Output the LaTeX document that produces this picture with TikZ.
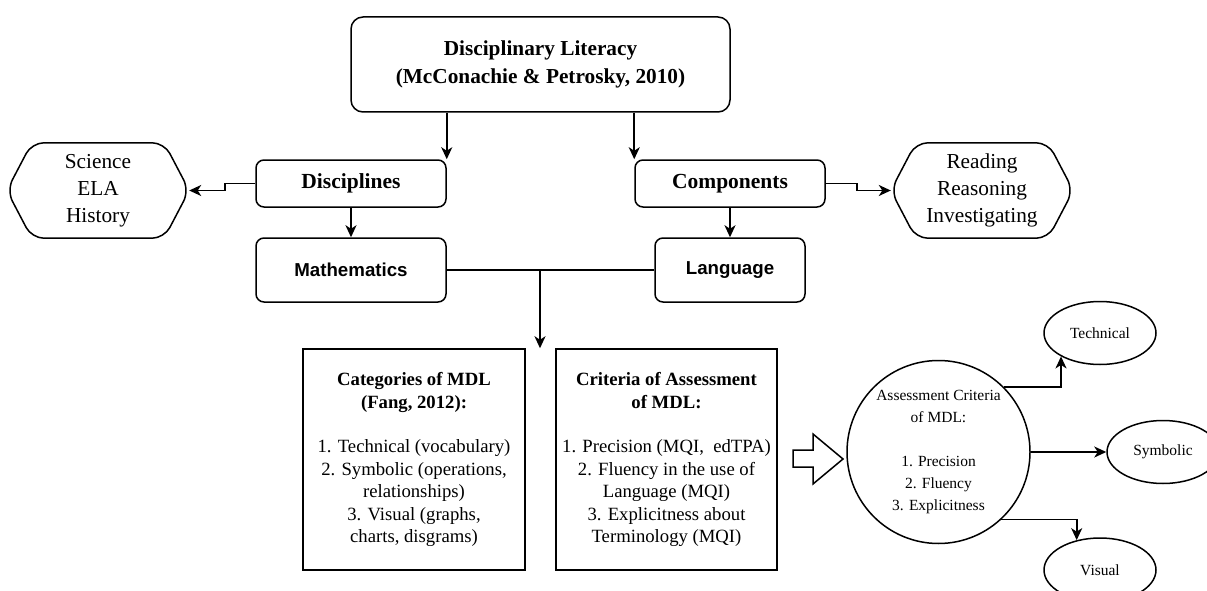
\documentclass[tikz,border=0pt]{standalone}
\usepackage{fontspec}
\setmainfont{Liberation Serif}
\newfontfamily\arialfont{Liberation Sans}
\usetikzlibrary{arrows.meta,shapes.geometric,calc}
\begin{document}
\begin{tikzpicture}[x=1pt,y=-1pt,
  rbox/.style={draw, rounded corners=8pt, line width=1.5pt, align=center, inner sep=0pt},
  sbox/.style={draw, line width=1.5pt, align=center, inner sep=0pt},
  hexline/.style={draw, line width=1.5pt, rounded corners=12pt},
  hextext/.style={align=center, minimum width=182pt, minimum height=95pt, inner sep=0pt, font=\fontsize{21.3}{27}\selectfont},
  ell/.style={draw, ellipse, line width=1.5pt, inner sep=0pt, minimum width=112pt, minimum height=63pt, font=\fontsize{15.5}{18}\selectfont},
  arr/.style={line width=1.8pt, -{Stealth[length=12pt,width=11pt,inset=3.5pt]}},
  plain/.style={line width=1.8pt}]
\useasboundingbox (0,0) rectangle (1207,591);

% top
\node[rbox, rounded corners=12pt, minimum width=379pt, minimum height=95pt,
      font=\bfseries\fontsize{21.3}{28}\selectfont] (top) at (540.5,64.5)
      {Disciplinary Literacy\\(McConachie \& Petrosky, 2010)};

% second row
\node[rbox, minimum width=190pt, minimum height=47pt, font=\bfseries\fontsize{21.5}{26}\selectfont] (disc) at (351,183.5) {Disciplines};
\node[rbox, minimum width=190pt, minimum height=47pt, font=\bfseries\fontsize{21.5}{26}\selectfont] (comp) at (730,183.5) {Components};

% third row
\node[rbox, minimum width=190pt, minimum height=64pt, font=\arialfont\bfseries\fontsize{18.7}{22}\selectfont] (math) at (351,270) {Mathematics};
\node[rbox, minimum width=150pt, minimum height=64pt, font=\arialfont\bfseries\fontsize{18.7}{22}\selectfont] (lang) at (730,270) {Language};

% hexagons
\node[hextext] (hexL) at (98,190.5) {Science\\ELA\\History};
\draw[hexline] (hexL.west) -- ([xshift=25pt]hexL.north west) -- ([xshift=-25pt]hexL.north east) -- (hexL.east) -- ([xshift=-25pt]hexL.south east) -- ([xshift=25pt]hexL.south west) -- cycle;
\node[hextext] (hexR) at (982,190.5) {Reading\\Reasoning\\Investigating};
\draw[hexline] (hexR.west) -- ([xshift=25pt]hexR.north west) -- ([xshift=-25pt]hexR.north east) -- (hexR.east) -- ([xshift=-25pt]hexR.south east) -- ([xshift=25pt]hexR.south west) -- cycle;

% lower boxes
\node[sbox, minimum width=222pt, minimum height=221pt, font=\fontsize{18.7}{22.4}\selectfont] (cat) at (414,459.5)
  {\textbf{Categories of MDL}\\\textbf{(Fang, 2012):}\\ \\1. Technical (vocabulary)\\2. Symbolic (operations,\\relationships)\\3. Visual (graphs,\\charts, disgrams)};
\node[sbox, minimum width=221pt, minimum height=221pt, font=\fontsize{18.7}{22.4}\selectfont] (crit) at (666.5,459.5)
  {\textbf{Criteria of Assessment}\\\textbf{of MDL:}\\ \\1. Precision (MQI,\ \ edTPA)\\2. Fluency in the use of\\Language (MQI)\\3. Explicitness about\\Terminology (MQI)};

% block arrow
\draw[line width=1.5pt, line join=miter] (793,450) -- (813,450) -- (813,434) -- (843,459) -- (813,484) -- (813,467) -- (793,467) -- cycle;

% circle
\node[draw, circle, line width=1.5pt, minimum size=183pt, inner sep=0pt, align=center, font=\fontsize{15.5}{22}\selectfont] (circ) at (938.5,452)
  {Assessment Criteria\\of MDL:\\ \\1. Precision\\2. Fluency\\3. Explicitness};

% ellipses
\node[ell] (tech) at (1100,333) {Technical};
\node[ell] (sym) at (1163,452) {Symbolic};
\node[ell, minimum height=64pt] (vis) at (1100,570) {Visual};

% connectors
\draw[arr] (top.south -| disc.east) -- (disc.north east);
\draw[arr] (top.south -| comp.west) -- (comp.north west);
\draw[arr] (disc.south) -- (math.north);
\draw[arr] (comp.south) -- (lang.north);
\draw[arr] (disc.west) -- ++(-30,0) |- (hexL.east);
\draw[arr] (comp.east) -- ++(31,0) |- (hexR.west);
\draw[plain] (math.east) -- (lang.west);
\coordinate (j) at (540,270);
\draw[arr] (j) -- (j |- cat.north);
\draw[arr] (circ.45) -| (tech.211);
\draw[arr] (circ.east) -- (sym.west);
\draw[arr] (circ.-47) -| (vis.128);
\end{tikzpicture}
\end{document}
